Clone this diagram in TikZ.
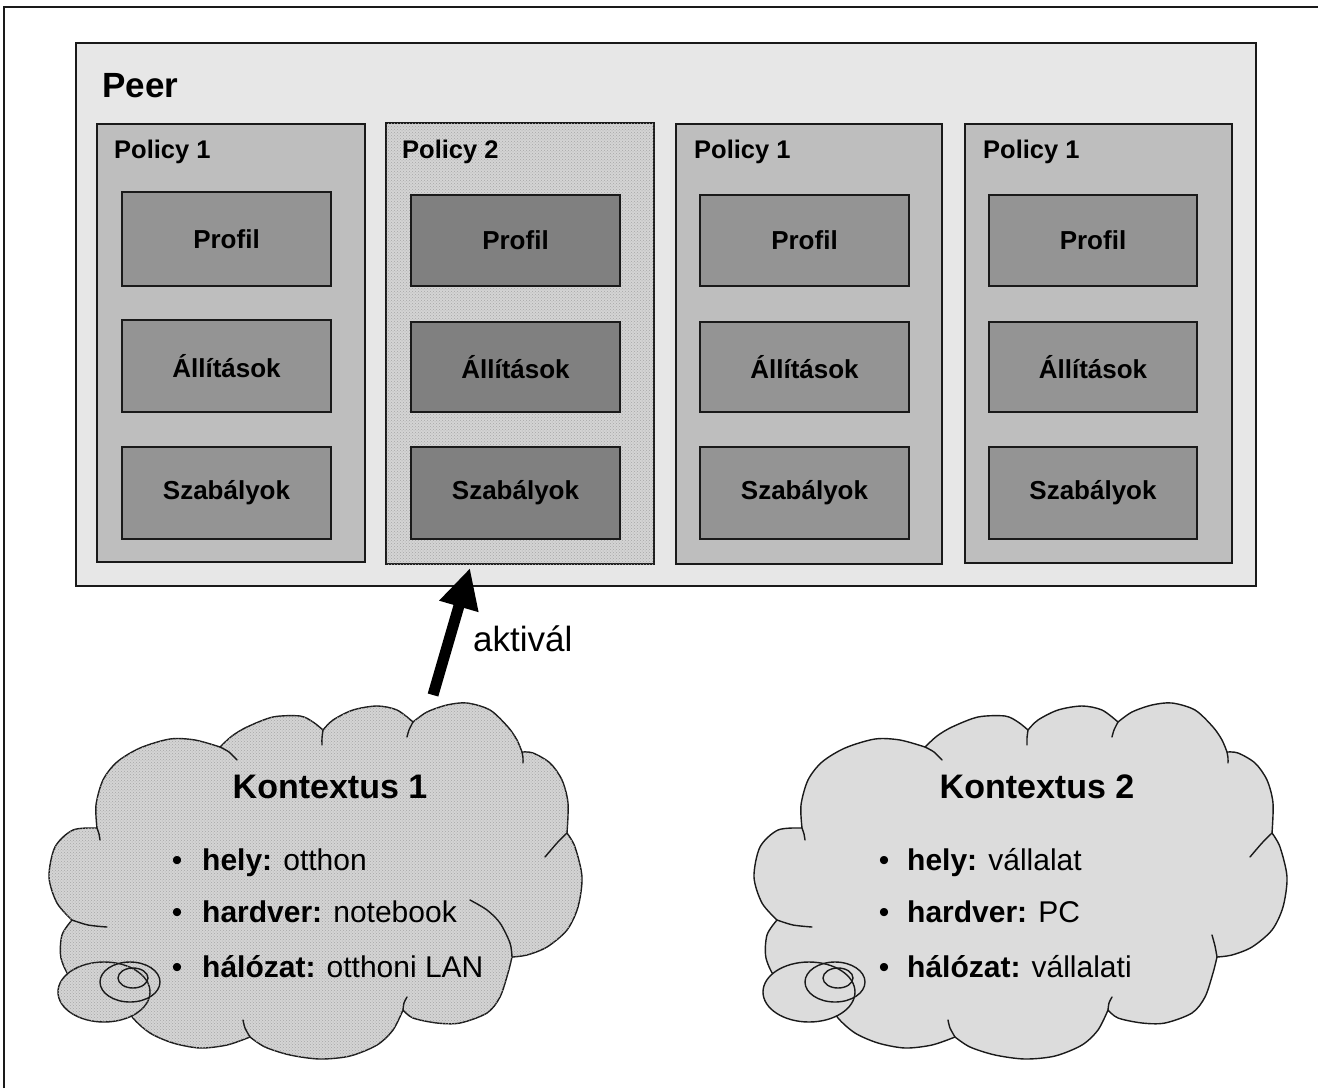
\documentclass[tikz,border=0pt]{standalone}
\usepackage{fontspec}
\setmainfont{Liberation Sans}
\usetikzlibrary{arrows.meta,patterns}

\definecolor{outerfill}{HTML}{E7E7E7}
\definecolor{polfill}{HTML}{BEBEBE}
\definecolor{innfill}{HTML}{949494}
\definecolor{innfilldark}{HTML}{808080}
\definecolor{stipbg}{HTML}{D4D4D4}
\definecolor{stipdot}{HTML}{A6A6A6}
\definecolor{cloudtwo}{HTML}{DCDCDC}
\definecolor{edge}{HTML}{1A1A1A}

\tikzset{
  frameline/.style={draw=edge,line width=1.6pt},
  peerbox/.style={rectangle,draw=edge,line width=2pt,fill=outerfill,inner sep=0pt,outer sep=0pt},
  policybox/.style={rectangle,draw=edge,line width=2pt,fill=polfill,inner sep=0pt,outer sep=0pt},
  stippled/.style={fill=stipbg,postaction={pattern=crosshatch dots,pattern color=stipdot}},
  itembox/.style={rectangle,draw=edge,line width=2pt,fill=innfill,inner sep=0pt,outer sep=0pt,
    minimum width=209pt,font=\fontsize{26}{30}\selectfont\bfseries},
  itemboxdark/.style={itembox,fill=innfilldark},
  peertitle/.style={anchor=base west,inner sep=0pt,font=\fontsize{35}{40}\selectfont\bfseries},
  poltitle/.style={anchor=base west,inner sep=0pt,font=\fontsize{25.5}{30}\selectfont\bfseries},
  arrowlabel/.style={anchor=base west,inner sep=0pt,font=\fontsize{35}{40}\selectfont},
  ctxtitle/.style={anchor=base,inner sep=0pt,font=\fontsize{34}{38}\selectfont\bfseries},
  ctxbullet/.style={anchor=base,inner sep=0pt,font=\fontsize{30}{34}\selectfont},
  ctxitem/.style={anchor=base west,inner sep=0pt,font=\fontsize{30}{34}\selectfont},
  bigarrow/.style={draw=black,line width=11pt,-{Triangle[length=40pt,width=38pt]}},
  cloudline/.style={draw=edge,line width=1.4pt,line join=round,line cap=round},
  pics/ctxcloud/.style={code={
    \path[cloudline,#1]
      plot[smooth] coordinates {(97,828) (96,805) (103,780) (117,762) (140,748) (170,739) (195,740) (220,747)}
      -- plot[smooth] coordinates {(220,747) (232,736) (247,727) (273,717) (300,716) (313,722) (323,730)}
      -- plot[smooth] coordinates {(323,730) (333,720) (353,710) (377,706) (397,710) (413,722)}
      -- plot[smooth] coordinates {(413,722) (427,712) (447,705) (467,703) (490,710) (508,727) (517,740) (522,752)}
      -- plot[smooth] coordinates {(522,752) (533,753) (550,763) (562,780) (568,803) (567,833)}
      -- plot[smooth] coordinates {(567,833) (575,847) (582,877) (578,907) (567,930) (547,947) (527,955) (512,957)}
      -- plot[smooth] coordinates {(512,957) (508,973) (500,997) (487,1013) (460,1023) (437,1023) (413,1018) (403,1010)}
      -- plot[smooth] coordinates {(403,1010) (393,1030) (377,1045) (350,1056) (320,1059) (290,1055) (265,1047) (250,1037)}
      -- plot[smooth] coordinates {(250,1037) (227,1045) (200,1048) (173,1043) (150,1033) (133,1018) (125,1003)}
      -- plot[smooth] coordinates {(125,1003) (95,995) (72,980) (61,958) (62,935) (72,920)}
      -- plot[smooth] coordinates {(72,920) (57,903) (49,877) (55,847) (73,830) (97,828)}
      -- cycle;
    \draw[cloudline] plot[smooth] coordinates {(220,747) (229,752) (237,760)};
    \draw[cloudline] plot[smooth] coordinates {(323,730) (322,738) (322,745)};
    \draw[cloudline] plot[smooth] coordinates {(413,722) (409,730) (407,737)};
    \draw[cloudline] plot[smooth] coordinates {(522,752) (523,758) (523,763)};
    \draw[cloudline] plot[smooth] coordinates {(567,833) (557,843) (545,857)};
    \draw[cloudline] plot[smooth] coordinates {(403,1010) (404,1003) (407,997)};
    \draw[cloudline] plot[smooth] coordinates {(250,1037) (245,1028) (243,1020)};
    \draw[cloudline] plot[smooth] coordinates {(72,920) (88,925) (107,927)};
    \draw[cloudline] plot[smooth] coordinates {(97,828) (99,834) (100,840)};
    \path[cloudline,#1] (104,992) ellipse [x radius=46pt,y radius=30pt];
    \draw[cloudline] (130,982) ellipse [x radius=30pt,y radius=20pt];
    \draw[cloudline] (133,978) ellipse [x radius=15pt,y radius=10pt];
  }}
}

\begin{document}
\begin{tikzpicture}[x=1pt,y=-1pt]
\useasboundingbox (0,0) rectangle (1318,1088);
\fill[white] (0,0) rectangle (1318,1088);
\draw[frameline] (4,1088) -- (4,7) -- (1318,7);

% Peer container
\node[peerbox,minimum width=1180pt,minimum height=543pt] (peer) at (666,314.5) {};
\node[peertitle] (peerlbl) at (102,97) {Peer};

% policy boxes
\node[policybox,minimum width=268pt,minimum height=438pt] (pol1) at (231,343) {};
\node[policybox,stippled,minimum width=268pt,minimum height=441pt] (pol2) at (520,343.5) {};
\node[policybox,minimum width=266pt,minimum height=440pt] (pol3) at (809,344) {};
\node[policybox,minimum width=267pt,minimum height=439pt] (pol4) at (1098.5,343.5) {};

\node[poltitle] (pol1t) at (114,158) {Policy 1};
\node[poltitle] (pol2t) at (402,158) {Policy 2};
\node[poltitle] (pol3t) at (694,158) {Policy 1};
\node[poltitle] (pol4t) at (983,158) {Policy 1};

% items
\node[itembox,minimum height=94pt] (p1a) at (226.5,239) {Profil};
\node[itembox,minimum height=92pt] (p1b) at (226.5,366) {Állítások};
\node[itembox,minimum height=92pt] (p1c) at (226.5,493) {Szabályok};

\node[itemboxdark,minimum height=91pt] (p2a) at (515.5,240.5) {Profil};
\node[itemboxdark,minimum height=90pt] (p2b) at (515.5,367) {Állítások};
\node[itemboxdark,minimum height=92pt] (p2c) at (515.5,493) {Szabályok};

\node[itembox,minimum height=91pt] (p3a) at (804.5,240.5) {Profil};
\node[itembox,minimum height=90pt] (p3b) at (804.5,367) {Állítások};
\node[itembox,minimum height=92pt] (p3c) at (804.5,493) {Szabályok};

\node[itembox,minimum width=208pt,minimum height=91pt] (p4a) at (1093,240.5) {Profil};
\node[itembox,minimum width=208pt,minimum height=90pt] (p4b) at (1093,367) {Állítások};
\node[itembox,minimum width=208pt,minimum height=92pt] (p4c) at (1093,493) {Szabályok};

% clouds
\pic at (0,0) {ctxcloud=stippled};
\draw[cloudline] plot[smooth] coordinates {(512,957) (510,943) (500,923) (487,910) (470,900)};
\pic at (705,0) {ctxcloud={fill=cloudtwo}};
\draw[cloudline] plot[smooth] coordinates {(1217,957) (1215,946) (1212,935)};
\fill[white] (1213,982) rectangle (1232,999);

\node[ctxtitle] (ctx1) at (330,798) {Kontextus 1};
\node[ctxbullet] (b11) at (177,870) {•};
\node[ctxitem] (c11) at (202,870) {\textbf{hely:} otthon};
\node[ctxbullet] (b12) at (177,922) {•};
\node[ctxitem] (c12) at (202,922) {\textbf{hardver:} notebook};
\node[ctxbullet] (b13) at (177,977) {•};
\node[ctxitem] (c13) at (202,977) {\textbf{hálózat:} otthoni LAN};

\node[ctxtitle] (ctx2) at (1037,798) {Kontextus 2};
\node[ctxbullet] (b21) at (884,870) {•};
\node[ctxitem] (c21) at (907,870) {\textbf{hely:} vállalat};
\node[ctxbullet] (b22) at (884,922) {•};
\node[ctxitem] (c22) at (907,922) {\textbf{hardver:} PC};
\node[ctxbullet] (b23) at (884,977) {•};
\node[ctxitem] (c23) at (907,977) {\textbf{hálózat:} vállalati};

% activation arrow
\coordinate (atail) at (433,695);
\coordinate (atip) at (470,568);
\draw[bigarrow] (atail) -- (atip);
\node[arrowlabel] (akt) at (473,651) {aktivál};
\end{tikzpicture}
\end{document}
